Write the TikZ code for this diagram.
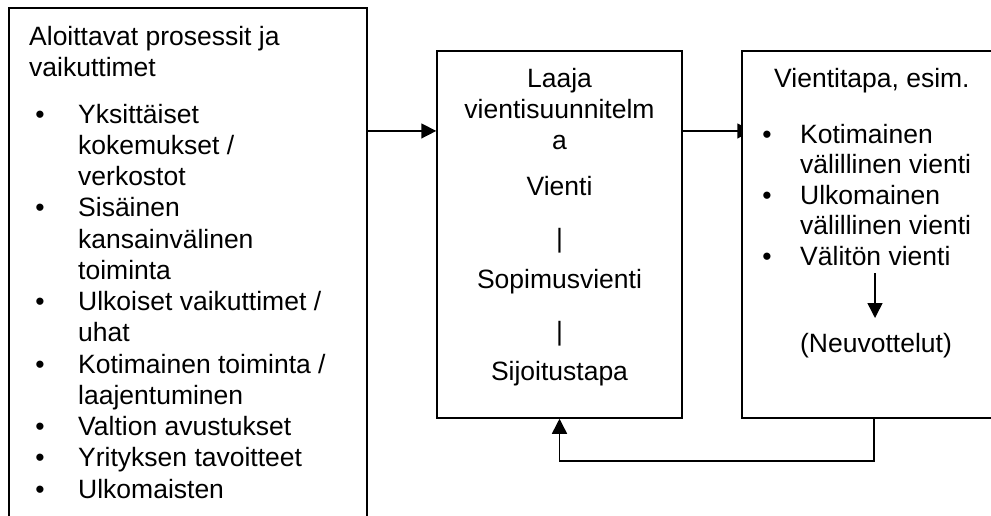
\documentclass[tikz,border=0pt]{standalone}
\usepackage{fontspec}
\setmainfont{Liberation Sans}
\usetikzlibrary{arrows.meta,calc}
\pgfdeclarelayer{bg}
\pgfsetlayers{bg,main}
\begin{document}
\begin{tikzpicture}[x=1pt,y=-1pt,
  box/.style={draw, line width=1.5pt, fill=white, inner sep=0pt},
  txt/.style={font=\fontsize{26.5}{31.25}\selectfont, inner sep=0pt, anchor=base west},
  ctxt/.style={font=\fontsize{26.5}{31.25}\selectfont, inner sep=0pt, anchor=base},
  arr/.style={line width=1.5pt, -{Triangle[length=15pt,width=15pt]}}]
\useasboundingbox (0,0) rectangle (991,515);
\clip (0,0) rectangle (991,515);

% boxes
\node[box, minimum width=358pt, minimum height=532pt] (left) at (188,274) {};
\node[box, minimum width=245pt, minimum height=367pt] (mid) at (559.5,234.5) {};
\node[box, minimum width=264pt, minimum height=367pt] (right) at (874,234.5) {};

% left box text
\node[txt] (l0) at (29,45) {Aloittavat prosessit ja};
\node[txt] (l0b) at (29,76) {vaikuttimet};
\foreach \y/\t [count=\i] in {123/{Yksittäiset}, 154.25/{kokemukset /}, 185.5/{verkostot},
   216.75/{Sisäinen}, 248/{kansainvälinen}, 279.25/{toiminta},
   310.5/{Ulkoiset vaikuttimet /}, 341.75/{uhat},
   373/{Kotimainen toiminta /}, 404.25/{laajentuminen},
   435.5/{Valtion avustukset}, 466.75/{Yrityksen tavoitteet}, 498/{Ulkomaisten}}
  \node[txt] (lt\i) at (78,\y) {\t};
\foreach \y [count=\i] in {123,216.75,310.5,373,435.5,466.75,498}
  \node[ctxt] (lb\i) at (40,\y) {•};

% middle box text
\node[ctxt] (m1) at (559.5,87) {Laaja};
\node[ctxt] (m2) at (559.5,118) {vientisuunnitelm};
\node[ctxt] (m3) at (559.5,149) {a};
\node[ctxt] (m4) at (559.5,195) {Vienti};
\node[ctxt] (m5) at (559.5,247) {|};
\node[ctxt] (m6) at (559.5,288) {Sopimusvienti};
\node[ctxt] (m7) at (559.5,340) {|};
\node[ctxt] (m8) at (559.5,380) {Sijoitustapa};

% right box text
\node[txt] (r0) at (774,87) {Vientitapa, esim.};
\foreach \y/\t [count=\i] in {143/{Kotimainen}, 173.6/{välillinen vienti}, 204.2/{Ulkomainen}, 234.8/{välillinen vienti}, 265.4/{Välitön vienti}}
  \node[txt] (rt\i) at (800,\y) {\t};
\foreach \y [count=\i] in {143,204.2,265.4}
  \node[ctxt] (rb\i) at (767,\y) {•};
\node[ctxt] (neuv) at (876,352) {(Neuvottelut)};
\coordinate (d1) at (875,273);
\coordinate (d2) at (875,318);
\draw[arr] (d1) -- (d2);

% connectors
\draw[arr] ([yshift=-123.7pt]left.north east) coordinate (p1) -- (p1 -| mid.west);
\begin{pgfonlayer}{bg}
\draw[arr] (p1 -| mid.east) -- ($(p1 -| right.west)+(11,0)$);
\end{pgfonlayer}
\draw[arr] (right.south) -- ++(0,42) -| (mid.south);
\end{tikzpicture}
\end{document}
